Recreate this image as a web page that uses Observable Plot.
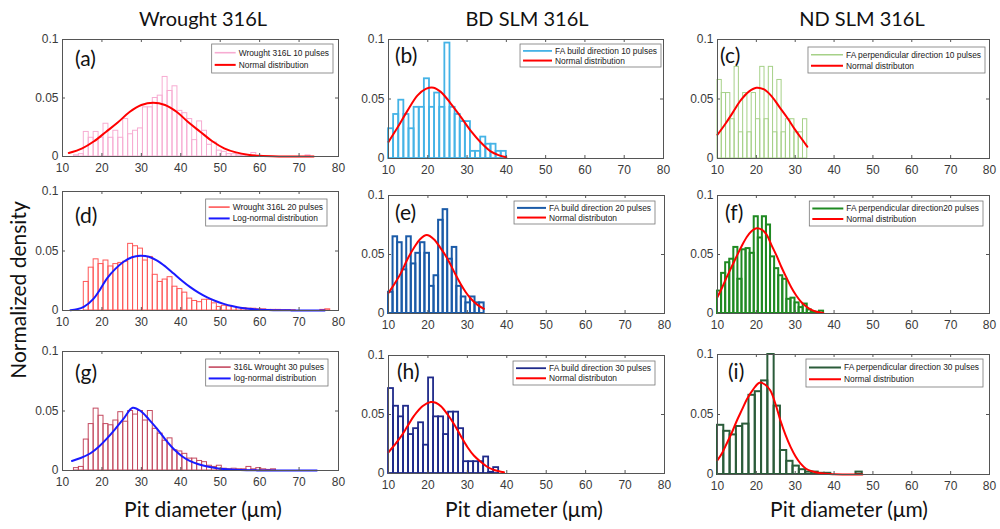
<!DOCTYPE html>
<html>
<head>
<meta charset="utf-8">
<script src="https://cdn.jsdelivr.net/npm/d3@7"></script>
<script src="https://cdn.jsdelivr.net/npm/@observablehq/plot@0.6"></script>
<style>
  body { margin: 0; background: #fff; }
  #wrap { position: relative; width: 1000px; height: 529px; overflow: hidden; background: #fff; }
  .ttl { position: absolute; transform: translate(-50%, -50%); font-family: Lato, "Open Sans", sans-serif; color: #111; white-space: nowrap; }
</style>
</head>
<body>
<div id="wrap"></div>
<script>
// ---------------- DATA ----------------
const xTicks = [10, 20, 30, 40, 50, 60, 70, 80];
const yTicks = [0, 0.05, 0.1];
const columnTitles = ["Wrought 316L", "BD SLM 316L", "ND SLM 316L"];
const xAxisLabel = "Pit diameter (\u03bcm)";
const yAxisLabel = "Normalized density";
const panelLetters = ["(a)", "(b)", "(c)", "(d)", "(e)", "(f)", "(g)", "(h)", "(i)"];
const histLabels = [
  "Wrought 316L 10 pulses", "FA build direction 10 pulses", "FA perpendicular direction 10 pulses",
  "Wrought 316L 20 pulses", "FA build direction 20 pulses", "FA perpendicular direction20 pulses",
  "316L Wrought 30 pulses", "FA build direction 30 pulses", "FA perpendicular direction 30 pulses"
];
const fitLabels = [
  "Normal distribution", "Normal distribution", "Normal distributon",
  "Log-normal distribution", "Normal distributon", "Normal distribution",
  "log-normal distribution", "Normal distributon", "Normal distribution"
];
const fitKinds = ["normal", "normal", "normal", "lognormal", "normal", "normal", "lognormal", "normal", "normal"];

// histogram bin definitions (first edge, bin width) and normalized counts
const binStarts = [12.9, 10, 10, 15.4, 10, 10, 12.9, 10, 10];
const binWidths = [1.25, 1.304, 1.1, 1.25, 1.155, 1.05, 1.25, 1.27, 1.62];

const histA = [0.001, 0.002, 0.021, 0.016, 0.021, 0.016, 0.028, 0.016, 0.022, 0.016, 0.032, 0.019, 0.022, 0.024,
  0.042, 0.042, 0.050, 0.052, 0.068, 0.056, 0.060, 0.039, 0.037, 0.032, 0.014, 0.030, 0.022, 0.010, 0.012, 0.005,
  0.004, 0.002, 0.002, 0.001, 0.001, 0, 0.003, 0, 0, 0, 0, 0, 0, 0, 0, 0, 0, 0.001];
const histB = [0.025, 0.037, 0.049, 0.037, 0.025, 0.043, 0.043, 0.067, 0.043, 0.055, 0.043, 0.097, 0.043, 0.037,
  0.031, 0.031, 0.006, 0.006, 0.018, 0.012, 0.012, 0.006, 0.006];
const histC = [0.066, 0.055, 0.055, 0.033, 0.077, 0.022, 0.055, 0.022, 0.055, 0.033, 0.077, 0.033, 0.077, 0.022,
  0.066, 0.022, 0.033, 0.033, 0.022, 0.022, 0.033];
const histD = [0.024, 0.036, 0.043, 0.039, 0.042, 0.037, 0.039, 0.040, 0.041, 0.056, 0.054, 0.052, 0.042, 0.045,
  0.030, 0.024, 0.026, 0.028, 0.020, 0.018, 0.015, 0.010, 0.008, 0.007, 0.009, 0.009, 0.006, 0.003, 0.004, 0.0035,
  0.003, 0.002, 0.002, 0.0015, 0.0015, 0.001, 0.001, 0.0005, 0.0005, 0.0005, 0.0003, 0.0003, 0.0003, 0, 0, 0, 0,
  0, 0.0005, 0.001];
const histE = [0.018, 0.065, 0.060, 0.037, 0.065, 0.042, 0.051, 0.060, 0.051, 0.023, 0.032, 0.079, 0.088, 0.046,
  0.056, 0.023, 0.014, 0.009, 0.014, 0.009, 0.009];
const histF = [0.019, 0.034, 0.043, 0.046, 0.056, 0.029, 0.054, 0.055, 0.051, 0.082, 0.064, 0.082, 0.075, 0.048,
  0.038, 0.032, 0.029, 0.012, 0.013, 0.009, 0.005, 0.008, 0.003, 0.001, 0.001, 0.002];
const histG = [0.002, 0.003, 0.026, 0.039, 0.052, 0.046, 0.039, 0.038, 0.042, 0.049, 0.041, 0.050, 0.047, 0.050,
  0.042, 0.050, 0.035, 0.031, 0.025, 0.027, 0.017, 0.016, 0.014, 0.010, 0.010, 0.008, 0.007, 0.004, 0.003, 0.004,
  0.0015, 0.001, 0.0015, 0.001, 0.001, 0.003, 0.001, 0.002, 0.001, 0.0005, 0.001];
const histH = [0.072, 0.057, 0.048, 0.057, 0.033, 0.038, 0.043, 0.024, 0.081, 0.048, 0.048, 0.033, 0.052, 0.052,
  0.038, 0.010, 0.010, 0.010, 0.010, 0.014, 0.001, 0.005];
const histI = [0.041, 0.036, 0.033, 0.040, 0.042, 0.066, 0.069, 0.078, 0.100, 0.057, 0.020, 0.011, 0.007, 0.004,
  0.002, 0.002, 0.001, 0.001, 0, 0, 0, 0, 0.002];

// fitted curves
const fitXA = [11.6, 15, 18, 21, 24, 27, 30, 33, 36, 39, 42, 45, 48, 51, 54, 57, 60, 65, 70, 73.7];
const fitYA = [0.003, 0.007, 0.013, 0.021, 0.029, 0.038, 0.044, 0.046, 0.044, 0.038, 0.029, 0.021, 0.013, 0.007,
  0.0035, 0.0015, 0.0006, 0.0001, 0, 0];
const fitXB = [10, 12.3, 14.8, 17.4, 19.5, 21.5, 23.3, 25.9, 28.4, 31.0, 33.5, 36.0, 38.0, 40.0];
const fitYB = [0.014, 0.026, 0.040, 0.053, 0.0585, 0.0595, 0.056, 0.046, 0.035, 0.023, 0.0135, 0.006, 0.0028, 0.001];
const fitXC = [10, 12, 14, 16, 18, 20, 22, 24, 26, 28, 30, 32, 33.1];
const fitYC = [0.020, 0.029, 0.039, 0.049, 0.056, 0.0594, 0.058, 0.052, 0.043, 0.034, 0.024, 0.015, 0.010];
const fitXD = [12, 13.7, 15.4, 17.9, 19.6, 21.3, 23.4, 25.5, 27.6, 29.8, 31.9, 34.0, 36.1, 38.2, 40.3, 42.4, 44.5,
  46.7, 48.8, 50.9, 53.0, 55.1, 57.2, 59.3, 63.5, 68, 76.5];
const fitYD = [0.0003, 0.001, 0.003, 0.010, 0.018, 0.027, 0.035, 0.041, 0.0448, 0.046, 0.0452, 0.042, 0.037, 0.031,
  0.025, 0.0196, 0.015, 0.011, 0.008, 0.0056, 0.0037, 0.0023, 0.0014, 0.0008, 0.0003, 0.0001, 0];
const fitXE = [10, 11.5, 13.1, 14.8, 16.5, 18, 19.7, 21.5, 23.3, 24.5, 25.8, 27, 28.3, 29.6, 30.9, 32.5, 34.2];
const fitYE = [0.0175, 0.025, 0.034, 0.046, 0.056, 0.063, 0.0665, 0.063, 0.055, 0.049, 0.041, 0.033, 0.025, 0.018,
  0.0125, 0.0075, 0.004];
const fitXF = [10, 11.2, 12.4, 13.7, 15, 16.2, 17.5, 18.8, 20.1, 21.4, 22.6, 23.9, 25.2, 26.5, 27.8, 29, 30.3, 31.6,
  32.9, 34.2, 35.5, 37.2];
const fitYF = [0.014, 0.022, 0.031, 0.040, 0.049, 0.057, 0.0646, 0.070, 0.0722, 0.071, 0.067, 0.058, 0.049, 0.039,
  0.030, 0.022, 0.015, 0.0095, 0.0057, 0.003, 0.0015, 0.0005];
const fitXG = [12.4, 14.6, 17.1, 19.2, 21.3, 23.4, 25.5, 27.8, 29.8, 31.9, 34.0, 36.1, 38.2, 40.3, 42.4, 44.5, 46.7,
  48.8, 50.9, 55.1, 59.3, 65, 74.5];
const fitYG = [0.008, 0.0105, 0.0145, 0.020, 0.027, 0.035, 0.0435, 0.0527, 0.050, 0.043, 0.035, 0.026, 0.018, 0.012,
  0.0078, 0.0052, 0.0034, 0.0021, 0.0012, 0.0004, 0.0001, 0, 0];
const fitXH = [10, 11.5, 13.1, 14.8, 16.5, 18.6, 20.7, 22, 23.3, 25, 26.6, 28.3, 30, 31.7, 33.4, 35.1, 36.8, 39.3];
const fitYH = [0.018, 0.024, 0.031, 0.040, 0.049, 0.057, 0.0606, 0.060, 0.057, 0.050, 0.042, 0.032, 0.0225, 0.015,
  0.0099, 0.0055, 0.003, 0.001];
const fitXI = [10, 11.2, 12.4, 13.7, 15, 16.3, 17.6, 19.2, 20.8, 22.2, 23.6, 24.9, 26.2, 27.5, 28.8, 30.1, 31.4, 32.7,
  34, 36.6, 40, 47.3];
const fitYI = [0.012, 0.018, 0.026, 0.035, 0.045, 0.054, 0.063, 0.071, 0.0765, 0.075, 0.070, 0.059, 0.045, 0.033,
  0.023, 0.015, 0.009, 0.005, 0.003, 0.001, 0.0002, 0];

const histValues = [histA, histB, histC, histD, histE, histF, histG, histH, histI];
const fitXs = [fitXA, fitXB, fitXC, fitXD, fitXE, fitXF, fitXG, fitXH, fitXI];
const fitYs = [fitYA, fitYB, fitYC, fitYD, fitYE, fitYF, fitYG, fitYH, fitYI];

// ---------------- LAYOUT / STYLE ----------------
const histColors = ["#f7acd2", "#45b3e6", "#a6d188", "#ff5757", "#1b5ba8", "#1f8a22", "#c44a60", "#1f2a8a", "#2b5c3a"];
const histWidths = [1, 1.8, 1, 1, 2, 2, 1, 1.8, 2];
const fitColors = {normal: "#ff0000", lognormal: "#1a1aff"};
const frames = [
  [62, 39, 338, 156], [388, 39, 663, 158], [717, 39, 989, 158],
  [62, 191, 338, 310], [388, 195, 664, 313], [717, 195, 989, 313],
  [62, 351, 338, 470], [388, 355, 664, 473], [717, 354, 989, 474]
];
const legends = [
  {r: 5, t: 5, h: 29, line: 21}, {r: 2, t: 5, h: 23, line: 29}, {r: 4, t: 8, h: 26, line: 32},
  {r: 11, t: 8, h: 27, line: 21}, {r: 9, t: 6, h: 23, line: 29}, {r: 6, t: 6, h: 25, line: 31},
  {r: 10, t: 8, h: 27, line: 22}, {r: 9, t: 6, h: 24, line: 30}, {r: 6, t: 5, h: 28, line: 32}
];
const letterPos = [
  {x: 13, y: 27}, {x: 7, y: 24}, {x: 3, y: 24},
  {x: 13, y: 32}, {x: 7, y: 25}, {x: 8, y: 25},
  {x: 13, y: 29}, {x: 9, y: 24}, {x: 11, y: 25}
];

const wrap = document.getElementById("wrap");
const mL = 36, mR = 10, mT = 8, mB = 22;
const axisColor = "#555";

frames.forEach((f, k) => {
  const W = f[2] - f[0], H = f[3] - f[1];
  const bins = histValues[k]
    .map((v, i) => ({x1: binStarts[k] + i * binWidths[k], x2: binStarts[k] + (i + 1) * binWidths[k], y: v}))
    .filter(d => d.y > 0);
  const curve = fitXs[k].map((x, i) => ({x, y: fitYs[k][i]}));
  const fitColor = fitColors[fitKinds[k]];

  const chart = Plot.plot({
    width: W + mL + mR, height: H + mT + mB,
    marginLeft: mL, marginRight: mR, marginTop: mT, marginBottom: mB,
    x: {domain: [10, 80]},
    y: {domain: [0, 0.1]},
    style: {fontFamily: "'Liberation Sans', Arial, sans-serif", fontSize: "12px", color: "#3a3a3a", background: "transparent", overflow: "visible"},
    marks: [
      Plot.rectY(bins, {x1: "x1", x2: "x2", y: "y", fill: "none", stroke: histColors[k], strokeWidth: histWidths[k]}),
      Plot.line(curve, {x: "x", y: "y", stroke: fitColor, strokeWidth: 2, curve: "catmull-rom"}),
      Plot.frame({stroke: axisColor}),
      Plot.tickX(xTicks, {x: d => d, insetTop: H - 3, stroke: axisColor}),
      Plot.tickX(xTicks, {x: d => d, insetBottom: H - 3, stroke: axisColor}),
      Plot.tickY(yTicks, {y: d => d, insetRight: W - 3, stroke: axisColor}),
      Plot.tickY(yTicks, {y: d => d, insetLeft: W - 3, stroke: axisColor}),
      Plot.axisX({ticks: xTicks, tickSize: 0, tickPadding: 7, label: null, tickFormat: d => String(d)}),
      Plot.axisY({ticks: yTicks, tickSize: 0, tickPadding: 4, label: null, tickFormat: d => String(d)})
    ]
  });
  chart.style.position = "absolute";
  chart.style.left = (f[0] - mL) + "px";
  chart.style.top = (f[1] - mT) + "px";
  wrap.appendChild(chart);

  const svg = d3.select(chart);
  // panel letter
  svg.append("text")
    .attr("x", mL + letterPos[k].x).attr("y", mT + letterPos[k].y)
    .attr("text-anchor", "start")
    .attr("font-family", "Lato, 'Open Sans', sans-serif").attr("font-size", 21).attr("fill", "#111")
    .text(panelLetters[k]);

  // legend
  const L = legends[k];
  const g = svg.append("g").attr("text-anchor", "start")
    .attr("font-family", "'Liberation Sans', Arial, sans-serif").attr("font-size", 8.4).attr("fill", "#222");
  const box = g.append("rect").attr("fill", "#fff").attr("stroke", "#777").attr("stroke-width", 0.8);
  const rows = [
    {label: histLabels[k], color: histColors[k], w: Math.max(histWidths[k], 1.6)},
    {label: fitLabels[k], color: fitColor, w: 2}
  ];
  const texts = rows.map(r => g.append("text").attr("text-anchor", "start").text(r.label));
  const tw = Math.max(...texts.map(t => t.node().getComputedTextLength()));
  const bw = 3 + L.line + 3 + tw + 4;
  const bx = mL + W - L.r - bw, by = mT + L.t;
  box.attr("x", bx).attr("y", by).attr("width", bw).attr("height", L.h);
  rows.forEach((r, i) => {
    const cy = by + L.h * (i === 0 ? 0.3 : 0.72);
    g.append("line").attr("x1", bx + 3).attr("x2", bx + 3 + L.line).attr("y1", cy).attr("y2", cy)
      .attr("stroke", r.color).attr("stroke-width", r.w);
    texts[i].attr("x", bx + 3 + L.line + 3).attr("y", cy).attr("dy", "0.35em");
  });
});

// column titles and axis labels
const colCenters = [203, 527, 862];
const xLabelCenters = [203, 524, 849];
columnTitles.forEach((t, i) => {
  const d = document.createElement("div");
  d.className = "ttl"; d.textContent = t;
  d.style.left = colCenters[i] + "px"; d.style.top = "18px"; d.style.fontSize = "20px";
  wrap.appendChild(d);
  const e = document.createElement("div");
  e.className = "ttl"; e.textContent = xAxisLabel;
  e.style.left = xLabelCenters[i] + "px"; e.style.top = "508px"; e.style.fontSize = "21px";
  wrap.appendChild(e);
});
const yl = document.createElement("div");
yl.className = "ttl"; yl.textContent = yAxisLabel;
yl.style.left = "17px"; yl.style.top = "290px"; yl.style.fontSize = "21px";
yl.style.transform = "translate(-50%, -50%) rotate(-90deg)";
wrap.appendChild(yl);
</script>
</body>
</html>
